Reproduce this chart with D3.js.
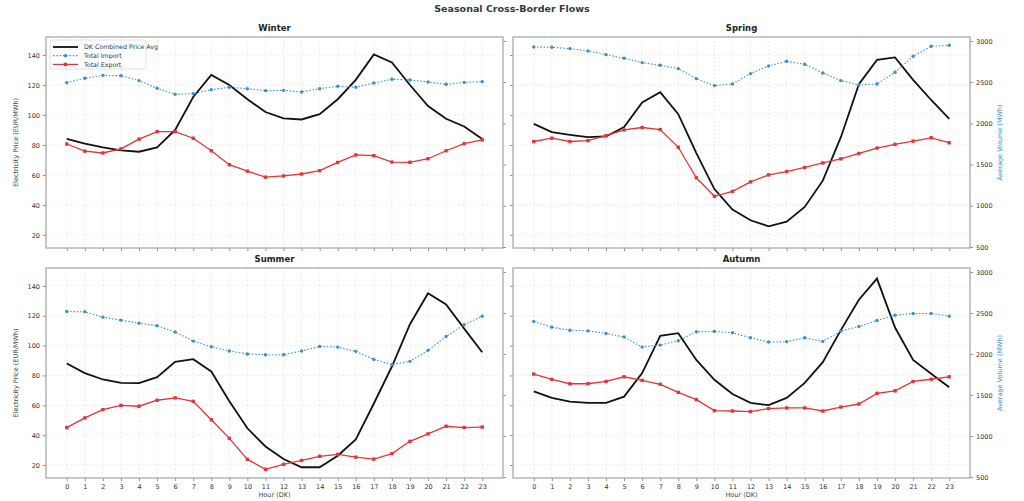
<!DOCTYPE html><html><head><meta charset="utf-8"><script src="https://cdn.jsdelivr.net/npm/d3@7"></script>
<style>body{margin:0;background:#fff}text{font-family:"DejaVu Sans",sans-serif}</style></head><body><svg id="c" width="1024" height="501"></svg>
<script>
const hours=d3.range(24);
const seasons=["Winter","Spring","Summer","Autumn"];
const priceWinter=[84,80.9,78.4,76.4,75.5,78.4,90,112,126.7,120,110.5,102,97.8,97,100.5,110.5,123.4,140.4,135,120,106,97.5,92.3,84];
const exportWinter=[1750,1663,1641,1690,1809,1900,1900,1820,1668,1499,1420,1347,1362,1386,1426,1526,1617,1608,1530,1528,1571,1668,1754,1800];
const importWinter=[2494,2547,2583,2579,2519,2426,2353,2361,2409,2438,2421,2397,2401,2381,2421,2450,2438,2490,2535,2527,2502,2474,2498,2506];
const priceSpring=[94.1,88.6,86.8,85.2,85.7,91.9,108.3,115.2,100.5,74.6,50.6,36.9,29.8,25.8,28.9,38.7,56.2,85.2,120.5,136.7,138.4,123.4,110,97.4];
const exportSpring=[1780,1820,1780,1790,1850,1920,1950,1925,1710,1340,1115,1175,1290,1375,1415,1465,1520,1570,1635,1700,1745,1785,1825,1765];
const importSpring=[2927,2923,2907,2879,2834,2790,2737,2705,2664,2543,2458,2478,2604,2697,2753,2717,2612,2519,2466,2478,2620,2814,2935,2947];
const priceSummer=[88,81.6,77.3,75.1,74.9,78.9,89.1,90.9,82.7,62.7,44.6,32.4,24,18.5,18.5,26.2,37.2,61.2,86,114.3,135.1,127.6,111.4,95.5];
const exportSummer=[1103,1220,1321,1374,1363,1436,1465,1423,1198,971,715,594,655,702,752,775,742,718,785,935,1026,1119,1103,1109];
const importSummer=[2518,2514,2449,2412,2376,2344,2267,2157,2088,2036,2000,1991,1991,2036,2092,2084,2032,1934,1870,1910,2044,2214,2356,2461];
const priceAutumn=[69.4,65,62.5,61.6,61.6,65.8,81.6,106.6,108.3,90.4,77.1,67.6,61.6,60.1,65,75,88.9,110.4,130.7,144.9,112.1,90.4,81.1,72.1];
const exportAutumn=[1755,1690,1637,1637,1665,1722,1678,1630,1532,1444,1309,1305,1298,1334,1342,1342,1305,1353,1390,1520,1551,1665,1692,1722];
const importAutumn=[2396,2327,2290,2282,2250,2206,2084,2108,2161,2271,2275,2258,2198,2145,2149,2198,2153,2279,2335,2408,2473,2494,2494,2461];
const priceTicks=[20,40,60,80,100,120,140], volTicks=[500,1000,1500,2000,2500,3000];
const data={Winter:[priceWinter,importWinter,exportWinter],Spring:[priceSpring,importSpring,exportSpring],Summer:[priceSummer,importSummer,exportSummer],Autumn:[priceAutumn,importAutumn,exportAutumn]};
const svg=d3.select("#c");
svg.append("text").attr("x",512).attr("y",12).attr("text-anchor","middle").attr("font-size",9.5).attr("font-weight","bold").attr("fill","#2d3a4a").text("Seasonal Cross-Border Flows");
const panels=[{x0:46,x1:503,y0:37,y1:248},{x0:513,x1:970,y0:37,y1:248},{x0:46,x1:503,y0:268,y1:478},{x0:513,x1:970,y0:268,y1:478}];
const blue="#3a8fd0",red="#e0363a",grey="#444";
seasons.forEach((s,i)=>{
 const p=panels[i],left=i%2==0,bottom=i>=2;
 const x=d3.scaleLinear().domain([-1.15,24.15]).range([p.x0,p.x1]);
 const y=d3.scaleLinear().domain([11.3,152]).range([p.y1,p.y0]);
 const y2=d3.scaleLinear().domain([488,3048]).range([p.y1,p.y0]);
 const g=svg.append("g");
 g.selectAll(".gx").data(hours).enter().append("line").attr("x1",d=>x(d)).attr("x2",d=>x(d)).attr("y1",p.y0).attr("y2",p.y1).attr("stroke","#ddd").attr("stroke-width",0.6).attr("stroke-dasharray","2,2");
 g.selectAll(".gy").data(priceTicks).enter().append("line").attr("x1",p.x0).attr("x2",p.x1).attr("y1",d=>y(d)).attr("y2",d=>y(d)).attr("stroke","#ddd").attr("stroke-width",0.6).attr("stroke-dasharray","2,2");
 const [pr,im,ex]=data[s];
 g.append("path").datum(pr).attr("fill","none").attr("stroke","#111").attr("stroke-width",1.8).attr("d",d3.line().x((d,j)=>x(j)).y(d=>y(d)));
 g.append("path").datum(im).attr("fill","none").attr("stroke",blue).attr("stroke-width",1.1).attr("stroke-dasharray","1.5,1.8").attr("d",d3.line().x((d,j)=>x(j)).y(d=>y2(d)));
 g.selectAll(".im").data(im).enter().append("circle").attr("cx",(d,j)=>x(j)).attr("cy",d=>y2(d)).attr("r",1.7).attr("fill",blue);
 g.append("path").datum(ex).attr("fill","none").attr("stroke",red).attr("stroke-width",1.3).attr("d",d3.line().x((d,j)=>x(j)).y(d=>y2(d)));
 g.selectAll(".ex").data(ex).enter().append("rect").attr("x",(d,j)=>x(j)-1.7).attr("y",d=>y2(d)-1.7).attr("width",3.4).attr("height",3.4).attr("fill",red);
 const ax=g.append("g").attr("transform",`translate(0,${p.y1})`).call(d3.axisBottom(x).tickValues(hours).tickSize(3).tickFormat(bottom?d3.format("d"):""));
 const ay=g.append("g").attr("transform",`translate(${p.x0},0)`).call(d3.axisLeft(y).tickValues(priceTicks).tickSize(3).tickFormat(left?d3.format("d"):""));
 const ay2=g.append("g").attr("transform",`translate(${p.x1},0)`).call(d3.axisRight(y2).tickValues(volTicks).tickSize(3).tickFormat(left?"":d3.format("d")));
 [ax,ay,ay2].forEach(a=>{a.select(".domain").remove();a.selectAll("line").attr("stroke",grey).attr("stroke-width",0.6);a.selectAll("text").attr("font-size",6.5).attr("fill","#333");});
 g.append("rect").attr("x",p.x0).attr("y",p.y0).attr("width",p.x1-p.x0).attr("height",p.y1-p.y0).attr("fill","none").attr("stroke","#aaa").attr("stroke-width",1.3);
 g.append("text").attr("x",(p.x0+p.x1)/2).attr("y",p.y0-6).attr("text-anchor","middle").attr("font-size",8.5).attr("font-weight","bold").attr("fill","#222").text(s);
 if(left) g.append("text").attr("transform",`translate(${p.x0-28},${(p.y0+p.y1)/2}) rotate(-90)`).attr("text-anchor","middle").attr("font-size",6.5).attr("fill","#444").text("Electricity Price (EUR/MWh)");
 else g.append("text").attr("transform",`translate(${p.x1+32},${(p.y0+p.y1)/2}) rotate(-90)`).attr("text-anchor","middle").attr("font-size",6.5).attr("fill",blue).text("Average Volume (MWh)");
 if(bottom) g.append("text").attr("x",(p.x0+p.x1)/2).attr("y",p.y1+19).attr("text-anchor","middle").attr("font-size",6.5).attr("fill","#444").text("Hour (DK)");
 if(i==0){
  const lg=g.append("g").attr("transform",`translate(${p.x0+4},${p.y0+3})`);
  lg.append("rect").attr("width",96).attr("height",29).attr("fill","#fff").attr("stroke","#ccc").attr("stroke-width",0.6).attr("rx",2);
  const items=[["DK Combined Price Avg","#111"],["Total Import",blue],["Total Export",red]];
  items.forEach((it,k)=>{const yy=7+k*8.7;
   const l=lg.append("line").attr("x1",3).attr("x2",28).attr("y1",yy).attr("y2",yy).attr("stroke",it[1]).attr("stroke-width",k==0?1.8:1.2);
   if(k==1){l.attr("stroke-dasharray","1.5,1.8");lg.append("circle").attr("cx",15.5).attr("cy",yy).attr("r",1.7).attr("fill",blue);}
   if(k==2)lg.append("rect").attr("x",13.8).attr("y",yy-1.7).attr("width",3.4).attr("height",3.4).attr("fill",red);
   lg.append("text").attr("x",34).attr("y",yy+2.2).attr("font-size",6.3).attr("fill","#333").text(it[0]);});
 }
});
</script></body></html>
